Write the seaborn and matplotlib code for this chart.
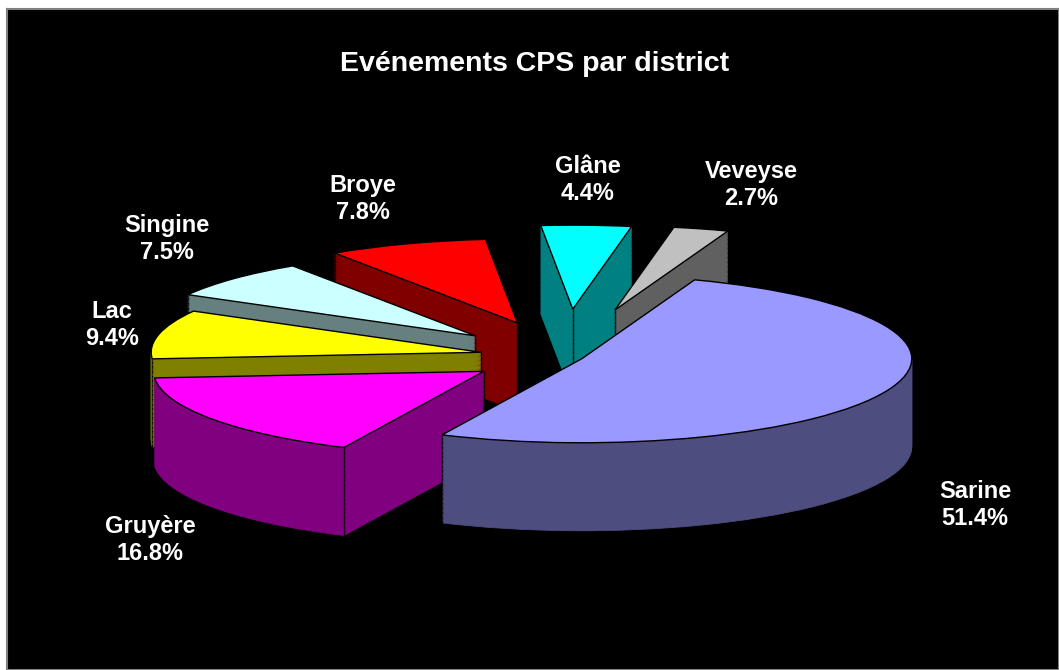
import numpy as np
import matplotlib
matplotlib.use("Agg")
import matplotlib.pyplot as plt
from matplotlib.collections import LineCollection
import seaborn as sns

# Données : événements CPS par district (en %)
districts = ["Sarine", "Gruyère", "Lac", "Singine", "Broye", "Glâne", "Veveyse"]
shares = [51.4, 16.8, 9.4, 7.5, 7.8, 4.4, 2.7]
top_colors = ["#9999FF", "#FF00FF", "#FFFF00", "#CCFFFF", "#FF0000", "#00FFFF", "#C0C0C0"]
side_colors = ["#4D4D80", "#800080", "#808000", "#668080", "#800000", "#008080", "#606060"]
explode = [0.055, 0.30, 0.26, 0.37, 0.43, 0.57, 0.58]

# Mise en page (pixels)
W, H = 1059, 670
cx, cy = 565, 357      # centre du camembert
rx, ry = 330, 84       # rayons de l'ellipse
depth_px = 88          # épaisseur du 3D
label_px = [(975, 505), (150, 540), (112, 325), (167, 239),
            (363, 199), (588, 180), (751, 185)]

sns.set_theme(style="white")
plt.rcParams["font.family"] = ["Liberation Sans", "DejaVu Sans"]

fig = plt.figure(figsize=(W / 100, H / 100), dpi=100)
fig.patch.set_facecolor("white")

# Fond noir avec bordure grise
panel = fig.add_axes([7 / W, 0, 1 - 7 / W, 1 - 9 / H])
panel.set_facecolor("black")
panel.set_xticks([])
panel.set_yticks([])
for s in panel.spines.values():
    s.set_color("#808080")
    s.set_linewidth(1.5)

ax = fig.add_axes([0, 0, 1, 1])
ax.set_facecolor("none")
ax.axis("off")

depth = depth_px / ry
common = dict(explode=explode, startangle=70, counterclock=False, radius=1.0)


def corners(wedges):
    # sommet + deux points du bord de chaque part
    pts = []
    for w in wedges:
        x0, y0 = w.center
        pts.append((x0, y0))
        for t in (w.theta1, w.theta2):
            pts.append((x0 + w.r * np.cos(np.radians(t)), y0 + w.r * np.sin(np.radians(t))))
    return np.array(pts)


# Fond du camembert (contour)
ax.pie(shares, colors=side_colors, center=(0, -depth),
       wedgeprops=dict(edgecolor="black", linewidth=1.6), **common)

# Parois latérales : empilement de couches + arêtes verticales
levels = np.linspace(depth, 0, 70)
for z, z_next in zip(levels[:-1], levels[1:]):
    wedges, _ = ax.pie(shares, colors=side_colors, center=(0, -z), **common)
    for w, c in zip(wedges, side_colors):
        w.set_edgecolor(c)
        w.set_linewidth(0.6)
    p = corners(wedges)
    segs = [[(x, y), (x, y + (z - z_next))] for x, y in p]
    ax.add_collection(LineCollection(segs, colors="black", linewidths=1.0, zorder=1))

# Face supérieure
ax.pie(shares, colors=top_colors, center=(0, 0),
       wedgeprops=dict(edgecolor="black", linewidth=1.0), **common)

ax.set_aspect("auto")
ax.set_xlim((0 - cx) / rx, (W - cx) / rx)
ax.set_ylim((cy - H) / ry, cy / ry)
ax.axis("off")

for name, share, (px, py) in zip(districts, shares, label_px):
    fig.text(px / W, 1 - py / H, f"{name}\n{share:.1f}%", ha="center", va="center",
             color="white", fontsize=17, fontweight="bold", linespacing=1.25)

fig.text(535 / W, 1 - 64 / H, "Evénements CPS par district", ha="center", va="center",
         color="white", fontsize=20.5, fontweight="bold")

fig.savefig("out.png", dpi=100, facecolor=fig.get_facecolor())
plt.close(fig)
